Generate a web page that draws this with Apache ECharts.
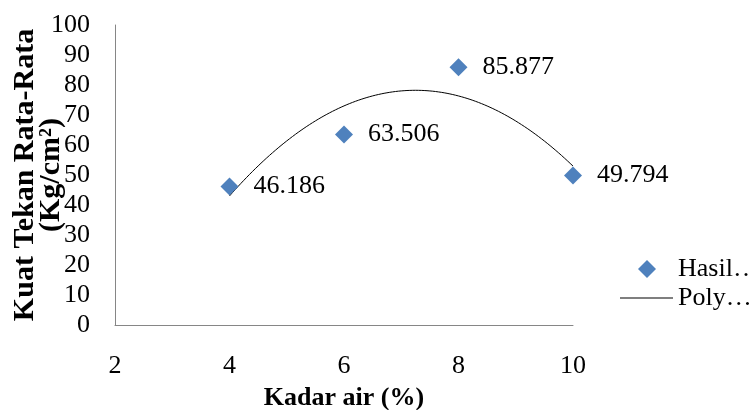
<!DOCTYPE html>
<html>
<head>
<meta charset="utf-8">
<script src="https://cdn.jsdelivr.net/npm/echarts@6/dist/echarts.min.js"></script>
<style>
  html, body { margin: 0; padding: 0; background: #ffffff; }
  #chart { width: 750px; height: 410px; }
</style>
</head>
<body>
<div id="chart"></div>
<script>
// Moisture content (%) and average compressive strength (kg/cm²)
var kadarAir = [4, 6, 8, 10];
var kuatTekan = [46.186, 63.506, 85.877, 49.794];
var xTicks = [2, 4, 6, 8, 10];
var yTicks = [0, 10, 20, 30, 40, 50, 60, 70, 80, 90, 100];

var seriesNames = ['Hasil\u2026', 'Poly\u2026'];

// Least-squares 2nd-order polynomial trendline through the measured points
function fitQuadratic(xs, ys) {
  var n = xs.length, s = [0, 0, 0, 0, 0], t = [0, 0, 0];
  for (var i = 0; i < n; i++) {
    var p = 1;
    for (var k = 0; k <= 4; k++) { s[k] += p; if (k <= 2) t[k] += p * ys[i]; p *= xs[i]; }
  }
  var A = [[s[0], s[1], s[2], t[0]], [s[1], s[2], s[3], t[1]], [s[2], s[3], s[4], t[2]]];
  for (var c = 0; c < 3; c++) {
    for (var r = c + 1; r < 3; r++) {
      var f = A[r][c] / A[c][c];
      for (var j = c; j < 4; j++) A[r][j] -= f * A[c][j];
    }
  }
  var coef = [0, 0, 0];
  for (var r2 = 2; r2 >= 0; r2--) {
    var v = A[r2][3];
    for (var j2 = r2 + 1; j2 < 3; j2++) v -= A[r2][j2] * coef[j2];
    coef[r2] = v / A[r2][r2];
  }
  return coef; // a0 + a1 x + a2 x^2
}

var coef = fitQuadratic(kadarAir, kuatTekan);
var xLo = kadarAir[0], xHi = kadarAir[kadarAir.length - 1];
var trend = [];
for (var i = 0; i <= 120; i++) {
  var x = xLo + (xHi - xLo) * i / 120;
  trend.push([x, coef[0] + coef[1] * x + coef[2] * x * x]);
}

var FONT = '"Liberation Serif", "Times New Roman", serif';
var chart = echarts.init(document.getElementById('chart'), null, { renderer: 'canvas' });

var legendText = { fontFamily: FONT, fontSize: 26, color: '#000000' };

chart.setOption({
  animation: false,
  backgroundColor: '#ffffff',
  textStyle: { fontFamily: FONT },
  grid: { left: 115, right: 177, top: 25, bottom: 85, containLabel: false, outerBoundsMode: 'none' },
  legend: [
    {
      // marker entry
      orient: 'vertical',
      left: 633,
      top: 251,
      itemWidth: 18,
      itemHeight: 18,
      icon: 'diamond',
      data: [seriesNames[0]],
      textStyle: Object.assign({ padding: [0, 0, 0, 17] }, legendText)
    },
    {
      // trendline entry
      orient: 'vertical',
      left: 615,
      top: 280,
      itemWidth: 53,
      itemHeight: 1,
      icon: 'rect',
      data: [seriesNames[1]],
      textStyle: legendText
    }
  ],
  xAxis: {
    type: 'value',
    min: xTicks[0],
    max: xTicks[xTicks.length - 1],
    interval: xTicks[1] - xTicks[0],
    name: 'Kadar air (%)',
    nameLocation: 'middle',
    nameGap: 60,
    nameMoveOverlap: false,
    nameTextStyle: { fontFamily: FONT, fontSize: 26, fontWeight: 'bold', color: '#000000' },
    axisLine: { show: true, lineStyle: { color: '#868686', width: 1 } },
    axisTick: { show: false },
    splitLine: { show: false },
    axisLabel: { margin: 28, fontFamily: FONT, fontSize: 26, color: '#000000' }
  },
  yAxis: {
    type: 'value',
    min: yTicks[0],
    max: yTicks[yTicks.length - 1],
    interval: yTicks[1] - yTicks[0],
    name: 'Kuat Tekan Rata-Rata\n(Kg/cm\u00B2)',
    nameLocation: 'middle',
    nameGap: 51,
    nameMoveOverlap: false,
    nameTextStyle: { fontFamily: FONT, fontSize: 30, fontWeight: 'bold', color: '#000000', lineHeight: 26 },
    axisLine: { show: true, lineStyle: { color: '#868686', width: 1 } },
    axisTick: { show: false },
    splitLine: { show: false },
    axisLabel: { margin: 25, fontFamily: FONT, fontSize: 26, color: '#000000' }
  },
  series: [
    {
      name: seriesNames[0],
      type: 'scatter',
      symbol: 'diamond',
      symbolSize: 18,
      z: 3,
      itemStyle: { color: '#4F81BD', opacity: 1 },
      data: kadarAir.map(function (x, i) { return [x, kuatTekan[i]]; }),
      label: {
        show: true,
        position: 'right',
        distance: 15,
        fontFamily: FONT,
        fontSize: 26,
        color: '#000000',
        formatter: function (p) { return p.value[1].toFixed(3); }
      }
    },
    {
      name: seriesNames[1],
      type: 'line',
      symbol: 'none',
      showSymbol: false,
      smooth: false,
      z: 2,
      itemStyle: { color: '#000000' },
      lineStyle: { color: '#000000', width: 1 },
      data: trend
    }
  ]
});
</script>
</body>
</html>
